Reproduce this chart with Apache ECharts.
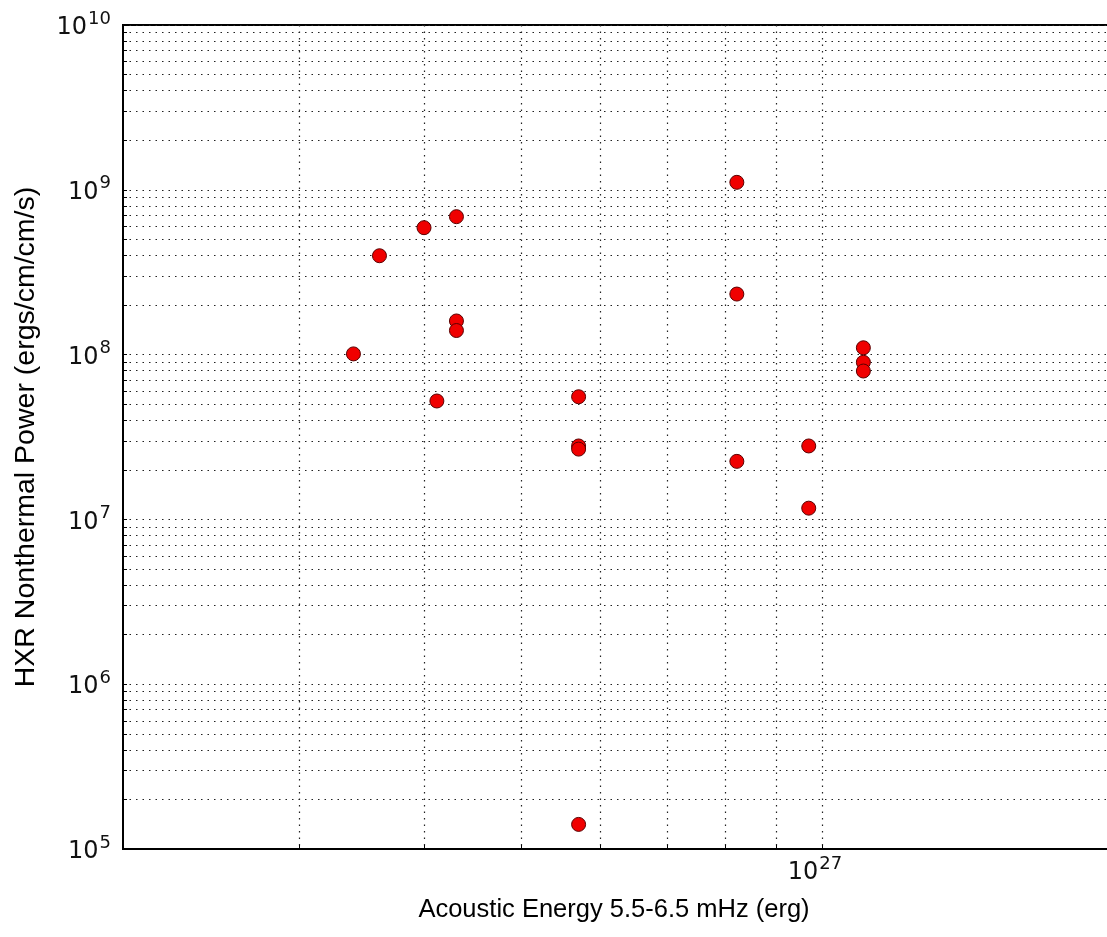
<!DOCTYPE html>
<html>
<head>
<meta charset="utf-8">
<script src="https://cdn.jsdelivr.net/npm/echarts@6/dist/echarts.min.js"></script>
<style>
  html, body { margin: 0; padding: 0; background: #fff; }
  #chart { width: 1107px; height: 937px; }
</style>
</head>
<body>
<div id="chart"></div>
<script>
// acoustic energy (erg) and HXR power for each flare
const acousticEnergy = [
  3.40e26, 3.61e26, 4.00e26, 4.31e26, 4.31e26, 4.31e26, 4.12e26,
  5.71e26, 5.71e26, 5.71e26, 5.71e26,
  8.22e26, 8.22e26, 8.22e26,
  9.70e26, 9.70e26,
  1.10e27, 1.10e27, 1.10e27,
];
const hxrPower = [
  1.01e8, 3.98e8, 5.89e8, 6.87e8, 1.60e8, 1.40e8, 5.23e7,
  5.55e7, 2.79e7, 2.67e7, 1.41e5,
  1.11e9, 2.33e8, 2.25e7,
  2.79e7, 1.17e7,
  1.10e8, 8.98e7, 7.95e7,
];

// grid lines (matplotlib style: every integer multiple inside each decade)
const xGridTicks = [3e26, 4e26, 5e26, 6e26, 7e26, 8e26, 9e26, 1e27];
const xLabelTicks = [1e27];
const yDecades = [1e5, 1e6, 1e7, 1e8, 1e9, 1e10];
const yGridTicks = [];
yDecades.forEach((d) => {
  for (let k = 1; k <= 9; k++) {
    if (d * k <= 1e10) yGridTicks.push(d * k);
  }
});

const points = acousticEnergy.map((x, i) => [x, hxrPower[i]]);

const powLabel = (v) => {
  const e = Math.round(Math.log10(v));
  return `{b|10}{s|${e}}`;
};

const labelRich = {
  b: { fontFamily: "DejaVu Sans", fontSize: 24, color: "#111", verticalAlign: "bottom", padding: [6, 0, 0, 0] },
  s: { fontFamily: "DejaVu Sans", fontSize: 18, color: "#111", verticalAlign: "bottom", padding: [0, 0, 12, 1] },
};

const dotted = { color: "#222", width: 1.2, type: [1.5, 5] };

const chart = echarts.init(document.getElementById("chart"));
chart.setOption({
  animation: false,
  backgroundColor: "#fff",
  grid: {
    left: 123,
    top: 25,
    right: -16,
    bottom: 88,
    show: true,
    borderColor: "#000",
    borderWidth: 2,
    outerBoundsMode: "none",
  },
  xAxis: {
    type: "log",
    min: 2e26,
    max: 2e27,
    name: "Acoustic Energy 5.5-6.5 mHz (erg)",
    nameLocation: "middle",
    nameGap: 48,
    nameTextStyle: { fontFamily: "Liberation Sans", fontSize: 25.5, color: "#000", padding: [0, 18, 0, 0] },
    axisLine: { show: true, lineStyle: { color: "#000", width: 2 } },
    axisTick: { show: true, inside: true, length: 4, customValues: xGridTicks, lineStyle: { color: "#000" } },
    axisLabel: {
      customValues: xLabelTicks,
      formatter: powLabel,
      rich: labelRich,
      margin: 6,
      padding: [0, 14, 0, 0],
    },
    splitLine: { show: true, lineStyle: dotted },
  },
  yAxis: {
    type: "log",
    min: 1e5,
    max: 1e10,
    name: "HXR Nonthermal Power (ergs/cm/cm/s)",
    nameLocation: "middle",
    nameRotate: 90,
    nameGap: 82,
    nameTextStyle: { fontFamily: "Liberation Sans", fontSize: 28.5, color: "#000" },
    axisLine: { show: true, lineStyle: { color: "#000", width: 2 } },
    axisTick: { show: true, inside: true, length: 4, customValues: yGridTicks, lineStyle: { color: "#000" } },
    axisLabel: {
      customValues: yDecades,
      formatter: powLabel,
      rich: labelRich,
      margin: 12,
    },
    splitLine: { show: true, lineStyle: dotted },
  },
  series: [
    {
      type: "scatter",
      data: points,
      symbol: "circle",
      symbolSize: 14,
      itemStyle: { color: "#f00000", borderColor: "#5a0000", borderWidth: 1, opacity: 1 },
    },
  ],
});
</script>
</body>
</html>
